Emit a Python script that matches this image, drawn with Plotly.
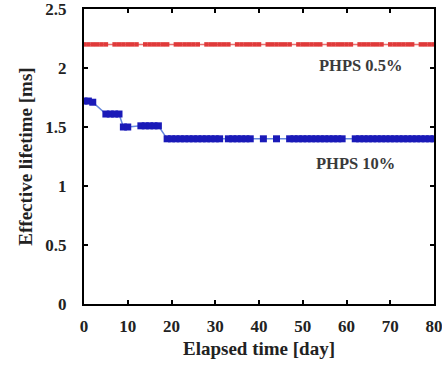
import plotly.graph_objects as go

# PHPS 0.5% series (days measured, weekday pattern)
red_days = [0, 1, 2, 3, 4, 5, 7, 8, 9, 10, 11, 12, 14, 15, 16, 17, 18, 19, 21, 22, 23, 24, 25, 26,
            28, 29, 30, 31, 32, 33, 35, 36, 37, 38, 39, 40, 42, 43, 44, 45, 46, 47, 49, 50, 51, 52, 53, 54,
            56, 57, 58, 59, 60, 61, 63, 64, 65, 66, 67, 68, 70, 71, 72, 73, 74, 75, 77, 78, 79, 80]
red_vals = [2.2] * len(red_days)

# PHPS 10% series
blue_days = [0, 1, 2, 5, 6, 7, 8, 9, 10, 13, 14, 15, 16, 17,
             19, 20, 21, 22, 23, 24, 25, 26, 27, 28, 29, 30, 31,
             33, 34, 35, 36, 37, 38, 41, 44,
             47, 48, 49, 50, 51, 52, 53, 54, 55, 56, 57, 58, 59,
             62, 63, 64, 65, 66, 67, 68, 69, 70, 71, 72, 73, 74,
             75, 76, 77, 78, 79, 80]
blue_vals = [1.72, 1.72, 1.71, 1.61, 1.61, 1.61, 1.61, 1.5, 1.5, 1.51, 1.51, 1.51, 1.51, 1.51,
             1.4, 1.4, 1.4, 1.4, 1.4, 1.4, 1.4, 1.4, 1.4, 1.4, 1.4, 1.4, 1.4,
             1.4, 1.4, 1.4, 1.4, 1.4, 1.4, 1.4, 1.4,
             1.4, 1.4, 1.4, 1.4, 1.4, 1.4, 1.4, 1.4, 1.4, 1.4, 1.4, 1.4, 1.4,
             1.4, 1.4, 1.4, 1.4, 1.4, 1.4, 1.4, 1.4, 1.4, 1.4, 1.4, 1.4, 1.4,
             1.4, 1.4, 1.4, 1.4, 1.4, 1.4]

x_ticks = [0, 10, 20, 30, 40, 50, 60, 70, 80]
y_ticks = [0, 0.5, 1, 1.5, 2, 2.5]
y_tick_labels = ["0", "0.5", "1", "1.5", "2", "2.5"]

FONT = "Liberation Serif"

fig = go.Figure()
fig.add_trace(go.Scatter(
    x=red_days, y=red_vals, mode="lines+markers",
    line=dict(color="#e87070", width=1.5),
    marker=dict(symbol="square", size=4.5, color="#e03a3a", line=dict(width=0)),
    showlegend=False))
fig.add_trace(go.Scatter(
    x=blue_days, y=blue_vals, mode="lines+markers",
    line=dict(color="#6688dd", width=1.5),
    marker=dict(symbol="square", size=7, color="#1a1ab8", line=dict(width=0)),
    showlegend=False))

fig.add_annotation(x=0.79, y=2.02, xref="x domain", yref="y", xanchor="center",
                   text="<b>PHPS 0.5%</b>", showarrow=False,
                   font=dict(family=FONT, size=16.5, color="#3a3a3a"))
fig.add_annotation(x=0.775, y=1.19, xref="x domain", yref="y", xanchor="center",
                   text="<b>PHPS 10%</b>", showarrow=False,
                   font=dict(family=FONT, size=16.5, color="#3a3a3a"))

axis_common = dict(showline=True, linecolor="black", linewidth=2, mirror="ticks",
                   ticks="inside", ticklen=4, tickwidth=1.5, tickcolor="black",
                   showgrid=False, zeroline=False, automargin=False,
                   ticklabeloverflow="allow")

fig.update_xaxes(range=[0, 80], tickvals=x_ticks, **axis_common, ticklabelstandoff=6,
                 tickfont=dict(family=FONT, size=17, color="#222222", weight="bold"),
                 title=dict(text="<b>Elapsed time [day]</b>",
                            font=dict(family=FONT, size=19, color="#222222"), standoff=6))
fig.update_yaxes(range=[0, 2.5], tickvals=y_ticks, ticktext=y_tick_labels, **axis_common,
                 ticklabelstandoff=12,
                 tickfont=dict(family=FONT, size=17, color="#222222", weight="bold"),
                 title=dict(text="<b>Effective lifetime [ms]</b>",
                            font=dict(family=FONT, size=19, color="#222222"), standoff=8))

fig.update_layout(width=442, height=366, margin=dict(l=84, r=8, t=9, b=62),
                  plot_bgcolor="white", paper_bgcolor="white")

fig.write_html("out.html", config={"displayModeBar": False},
               post_script="document.body.style.margin='0';")
